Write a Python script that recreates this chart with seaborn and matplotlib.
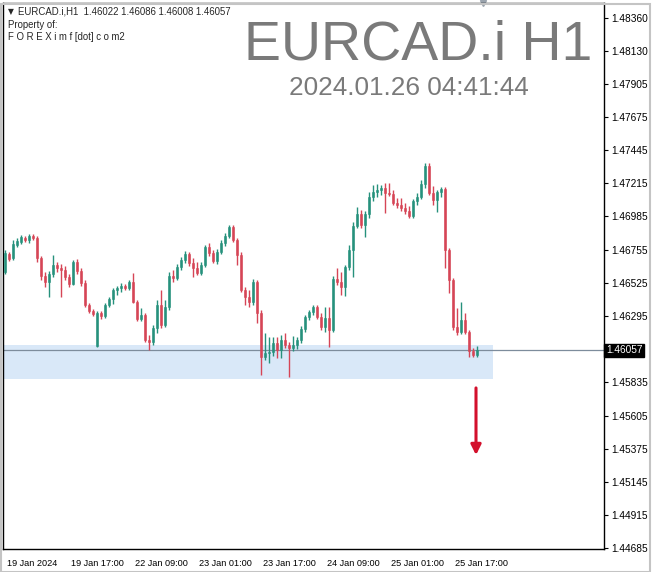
import numpy as np
import pandas as pd
import matplotlib
matplotlib.use("Agg")
import matplotlib.pyplot as plt
import matplotlib.transforms as mtransforms
from matplotlib.patches import Rectangle
import seaborn as sns

# ── Data (EURCAD.i H1 candles) ───────────────────────────────────────────────

opens = [1.46600, 1.46724, 1.46697, 1.46787, 1.46808, 1.46835, 1.46822, 1.46849, 1.46835, 1.46697,
         1.46572, 1.46530, 1.46586, 1.46648, 1.46627, 1.46614, 1.46565, 1.46517, 1.46669, 1.46607,
         1.46523, 1.46371, 1.46330, 1.46087, 1.46316, 1.46295, 1.46371, 1.46413, 1.46475, 1.46489,
         1.46503, 1.46489, 1.46530, 1.46392, 1.46274, 1.46302, 1.46129, 1.46115, 1.46212, 1.46371,
         1.46233, 1.46357, 1.46572, 1.46558, 1.46634, 1.46683, 1.46724, 1.46662, 1.46627, 1.46593,
         1.46648, 1.46773, 1.46731, 1.46676, 1.46738, 1.46801, 1.46849, 1.46912, 1.46822, 1.46717,
         1.46475, 1.46426, 1.46392, 1.46530, 1.46316, 1.46011, 1.46039, 1.46045, 1.46108, 1.46059,
         1.46129, 1.46094, 1.46073, 1.46094, 1.46129, 1.46205, 1.46288, 1.46323, 1.46357, 1.46288,
         1.46219, 1.46281, 1.46198, 1.46551, 1.46530, 1.46496, 1.46634, 1.46752, 1.46918, 1.47002,
         1.46925, 1.47002, 1.47120, 1.47154, 1.47168, 1.47182, 1.47147, 1.47140, 1.47078, 1.47064,
         1.47043, 1.47022, 1.46988, 1.47092, 1.47120, 1.47210, 1.47334, 1.47147, 1.47099, 1.47154,
         1.47175, 1.46752, 1.46544, 1.46219, 1.46184, 1.46267, 1.46184, 1.46052, 1.46022]
highs = [1.46752, 1.46738, 1.46822, 1.46835, 1.46856, 1.46849, 1.46863, 1.46863, 1.46849, 1.46711,
         1.46600, 1.46607, 1.46717, 1.46669, 1.46655, 1.46641, 1.46586, 1.46683, 1.46690, 1.46627,
         1.46544, 1.46385, 1.46343, 1.46330, 1.46330, 1.46385, 1.46426, 1.46489, 1.46503, 1.46523,
         1.46517, 1.46544, 1.46593, 1.46406, 1.46350, 1.46316, 1.46163, 1.46233, 1.46406, 1.46475,
         1.46406, 1.46600, 1.46614, 1.46655, 1.46704, 1.46745, 1.46738, 1.46697, 1.46669, 1.46669,
         1.46787, 1.46801, 1.46752, 1.46759, 1.46822, 1.46870, 1.46925, 1.46925, 1.46835, 1.46738,
         1.46496, 1.46475, 1.46551, 1.46544, 1.46336, 1.46177, 1.46149, 1.46149, 1.46149, 1.46163,
         1.46177, 1.46115, 1.46156, 1.46149, 1.46226, 1.46302, 1.46336, 1.46371, 1.46371, 1.46316,
         1.46357, 1.46357, 1.46572, 1.46627, 1.46600, 1.46648, 1.46787, 1.46946, 1.47050, 1.47029,
         1.47022, 1.47154, 1.47203, 1.47210, 1.47203, 1.47217, 1.47217, 1.47168, 1.47113, 1.47113,
         1.47078, 1.47057, 1.47106, 1.47147, 1.47237, 1.47355, 1.47355, 1.47196, 1.47168, 1.47189,
         1.47189, 1.46766, 1.46558, 1.46350, 1.46392, 1.46316, 1.46198, 1.46073, 1.46086]
lows = [1.46586, 1.46676, 1.46683, 1.46773, 1.46794, 1.46808, 1.46801, 1.46822, 1.46669, 1.46544,
        1.46496, 1.46426, 1.46565, 1.46600, 1.46426, 1.46544, 1.46496, 1.46510, 1.46586, 1.46503,
        1.46357, 1.46316, 1.46295, 1.46080, 1.46274, 1.46281, 1.46357, 1.46378, 1.46440, 1.46461,
        1.46475, 1.46475, 1.46385, 1.46260, 1.46260, 1.46115, 1.46059, 1.46094, 1.46177, 1.46212,
        1.46219, 1.46336, 1.46530, 1.46544, 1.46614, 1.46662, 1.46641, 1.46565, 1.46579, 1.46579,
        1.46634, 1.46711, 1.46662, 1.46655, 1.46724, 1.46780, 1.46835, 1.46808, 1.46648, 1.46461,
        1.46371, 1.46357, 1.46371, 1.46246, 1.45886, 1.45990, 1.45969, 1.46018, 1.46004, 1.46004,
        1.46073, 1.45872, 1.46052, 1.46066, 1.46108, 1.46184, 1.46267, 1.46302, 1.46274, 1.46198,
        1.46184, 1.46080, 1.46184, 1.46510, 1.46440, 1.46433, 1.46614, 1.46565, 1.46905, 1.46905,
        1.46842, 1.46974, 1.47092, 1.47120, 1.47133, 1.47009, 1.47126, 1.47064, 1.47043, 1.47022,
        1.47002, 1.46974, 1.46974, 1.47064, 1.47106, 1.47182, 1.47133, 1.47064, 1.47016, 1.47120,
        1.46627, 1.46454, 1.46198, 1.46163, 1.46170, 1.46170, 1.46011, 1.46011, 1.46008]
closes = [1.46731, 1.46690, 1.46794, 1.46815, 1.46842, 1.46822, 1.46849, 1.46835, 1.46697, 1.46572,
          1.46530, 1.46586, 1.46648, 1.46627, 1.46614, 1.46565, 1.46517, 1.46669, 1.46607, 1.46523,
          1.46371, 1.46330, 1.46309, 1.46316, 1.46295, 1.46371, 1.46413, 1.46475, 1.46489, 1.46503,
          1.46489, 1.46530, 1.46392, 1.46274, 1.46302, 1.46129, 1.46115, 1.46212, 1.46371, 1.46233,
          1.46357, 1.46572, 1.46558, 1.46634, 1.46683, 1.46724, 1.46662, 1.46627, 1.46593, 1.46648,
          1.46773, 1.46731, 1.46676, 1.46738, 1.46801, 1.46849, 1.46912, 1.46822, 1.46717, 1.46475,
          1.46426, 1.46392, 1.46530, 1.46316, 1.46011, 1.46039, 1.46045, 1.46108, 1.46059, 1.46129,
          1.46094, 1.46073, 1.46094, 1.46129, 1.46205, 1.46288, 1.46323, 1.46357, 1.46288, 1.46219,
          1.46281, 1.46198, 1.46551, 1.46530, 1.46496, 1.46634, 1.46752, 1.46918, 1.47002, 1.46925,
          1.47002, 1.47120, 1.47154, 1.47168, 1.47182, 1.47147, 1.47140, 1.47078, 1.47064, 1.47043,
          1.47022, 1.46988, 1.47092, 1.47120, 1.47210, 1.47334, 1.47147, 1.47099, 1.47154, 1.47175,
          1.46752, 1.46544, 1.46219, 1.46184, 1.46267, 1.46184, 1.46052, 1.46022, 1.46057]

time_labels = ["19 Jan 2024", "19 Jan 17:00", "22 Jan 09:00", "23 Jan 01:00",
               "23 Jan 17:00", "24 Jan 09:00", "25 Jan 01:00", "25 Jan 17:00"]
BARS_PER_LABEL = 16

price_ticks = [1.48360, 1.48130, 1.47905, 1.47675, 1.47445, 1.47215, 1.46985, 1.46755,
               1.46525, 1.46295, 1.45835, 1.45605, 1.45375, 1.45145, 1.44915, 1.44685]

last_price = 1.46057
zone_top, zone_bottom, zone_end = 1.46094, 1.45859, 122
arrow_bar, arrow_from, arrow_to = 117.75, 1.45797, 1.45332

symbol = "EURCAD.i H1"
stamp = "2024.01.26 04:41:44"
header = "EURCAD.i,H1  1.46022 1.46086 1.46008 1.46057"

# ── Style ────────────────────────────────────────────────────────────────────

sns.set_theme(style="white")
plt.rcParams["font.family"] = ["Liberation Sans", "DejaVu Sans"]

GREEN = "#26917c"
RED = "#d64556"

df = pd.DataFrame({"open": opens, "high": highs, "low": lows, "close": closes})
df["bar"] = np.arange(len(df))
df["up"] = df["close"] >= df["open"]
df["color"] = np.where(df["up"], GREEN, RED)

W, H = 652, 572
fig = plt.figure(figsize=(W / 100, H / 100), dpi=100)
ax = fig.add_axes([3 / W, 1 - 549 / H, 601 / W, 546 / H])

# outer window frame
fig.patches.append(Rectangle((0.5 / W, 0.5 / H), (W - 2.5) / W, (H - 4) / H,
                             transform=fig.transFigure, fill=False,
                             ec="#c4c4c4", lw=1.5))

# ── Candles ──────────────────────────────────────────────────────────────────

ax.vlines(df["bar"], df["low"], df["high"], colors=df["color"], lw=1, zorder=3)
body_lo = df[["open", "close"]].min(axis=1)
body_hi = df[["open", "close"]].max(axis=1)
body_h = np.maximum(body_hi - body_lo, 0.00003)
ax.bar(df["bar"], body_h, bottom=body_lo, width=0.72, color=df["color"],
       edgecolor=df["color"], lw=0.4, zorder=4)

# support zone, price line, arrow
ax.fill_between([-0.5, zone_end], zone_bottom, zone_top, color="#d9e8f8", lw=0, zorder=1)
ax.axhline(last_price, color="#7d8c9c", lw=0.9, zorder=2)
ax.annotate("", xy=(arrow_bar, arrow_to), xytext=(arrow_bar, arrow_from),
            arrowprops=dict(arrowstyle="-|>", color="#d3102c", lw=2.2,
                            mutation_scale=15, shrinkA=0, shrinkB=0), zorder=5)

# ── Axes ─────────────────────────────────────────────────────────────────────

ax.set_xlim(-0.5, 149.75)
ax.set_ylim(1.44681, 1.48464)
for s in ax.spines.values():
    s.set_visible(True)
    s.set_color("black")
    s.set_linewidth(1)

ax.yaxis.tick_right()
ax.set_yticks(price_ticks)
ax.set_yticklabels([f"{p:.5f}" for p in price_ticks], fontsize=7.3, color="black")
ax.tick_params(axis="y", direction="out", length=3, width=0.8, pad=2, color="black")

xt = [i * BARS_PER_LABEL for i in range(len(time_labels))]
ax.set_xticks(xt)
ax.set_xticklabels(time_labels, fontsize=6.6, color="black", ha="left")
ax.tick_params(axis="x", direction="out", length=4, width=0.8, pad=3, color="black")
shift = mtransforms.ScaledTranslation(2 / 100, 0, fig.dpi_scale_trans)
for lbl in ax.get_xticklabels():
    lbl.set_transform(lbl.get_transform() + shift)

ax.grid(False)

# current price label on the scale
ax.text(1.003, last_price, f"{last_price:.5f}",
        transform=mtransforms.blended_transform_factory(ax.transAxes, ax.transData),
        fontsize=7.3, color="white", va="center", ha="left",
        bbox=dict(boxstyle="square,pad=0.18", fc="black", ec="black"))

# shift marker at the top
ax.plot([119.5], [1.0], marker="v", ms=5, color="#9aa3ad", clip_on=False,
        transform=mtransforms.blended_transform_factory(ax.transData, ax.transAxes))

# ── Texts ────────────────────────────────────────────────────────────────────

fig.text(8 / W, 1 - 12 / H, "▼", fontsize=5.5, va="center", ha="left",
         family=["DejaVu Sans"])
fig.text(18 / W, 1 - 12 / H, header, fontsize=6.9, va="center", ha="left")
fig.text(8 / W, 1 - 25 / H, "Property of:", fontsize=6.9, va="center", ha="left")
fig.text(8 / W, 1 - 37 / H, "F O R E X i m f [dot] c o m2", fontsize=6.9,
         va="center", ha="left")

fig.text(418 / W, 1 - 59.5 / H, symbol, fontsize=40, color="#7a7a7a",
         ha="center", va="baseline")
fig.text(409 / W, 1 - 95 / H, stamp, fontsize=18.8, color="#7a7a7a",
         ha="center", va="baseline")

fig.savefig("out.png", dpi=100)
